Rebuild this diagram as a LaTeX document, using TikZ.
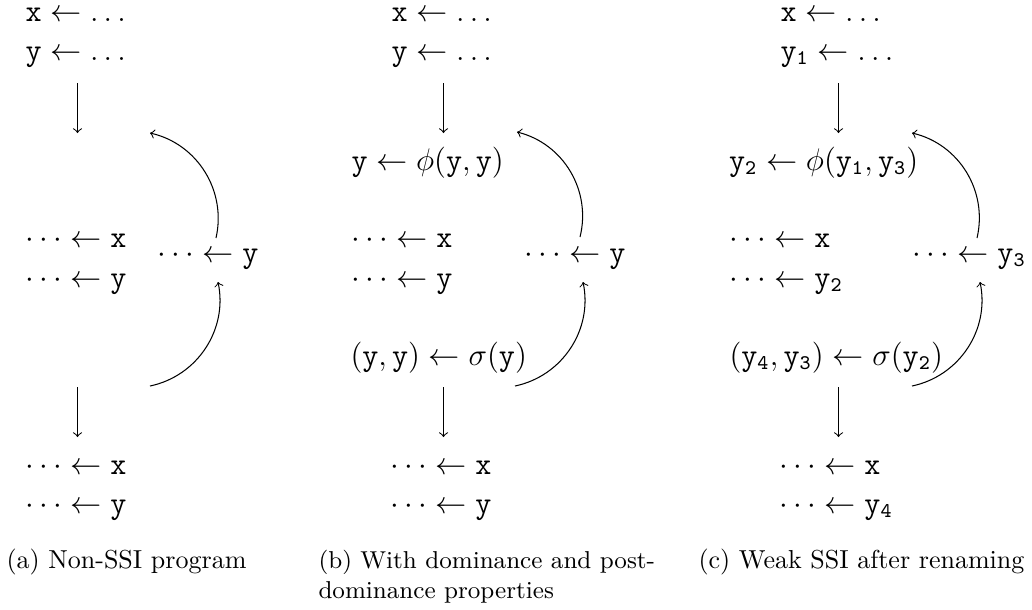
\documentclass[tikz,border=0pt]{standalone}
\begin{document}
\begin{tikzpicture}[x=0.3846pt,y=0.3846pt,
  txt/.style={anchor=base west, inner sep=0pt, font=\fontsize{12}{15}\selectfont},
  captxt/.style={anchor=base west, inner sep=0pt, font=\fontsize{10}{11.5}\selectfont, align=left},
  flow/.style={->, line width=0.4pt},
  backarc/.style={->, line width=0.4pt, bend right=45}]
\useasboundingbox (0,0) rectangle (1032,-609);
% ---------- panel (a)
\node[txt] (a1) at (25,-21) {$\mathtt{x} \leftarrow \ldots$};
\node[txt] (a2) at (25,-60) {$\mathtt{y} \leftarrow \ldots$};
\node[txt] (a3) at (25,-247) {$\cdots \leftarrow \mathtt{x}$};
\node[txt] (a4) at (25,-287) {$\cdots \leftarrow \mathtt{y}$};
\node[txt] (a5) at (157,-262) {$\cdots \leftarrow \mathtt{y}$};
\node[txt] (a6) at (25,-474) {$\cdots \leftarrow \mathtt{x}$};
\node[txt] (a7) at (25,-513) {$\cdots \leftarrow \mathtt{y}$};
\coordinate (ad1) at (77.5,-83);  \coordinate (ad2) at (77.5,-133);
\coordinate (ad3) at (77.5,-387); \coordinate (ad4) at (77.5,-437);
\coordinate (au1) at (216,-238); \coordinate (au2) at (150,-133);
\coordinate (al1) at (150,-386); \coordinate (al2) at (218,-282);
\draw[flow] (ad1) -- (ad2);
\draw[flow] (ad3) -- (ad4);
\draw[backarc] (au1) to (au2);
\draw[backarc] (al1) to (al2);
\node[captxt] (acap) at (6,-568) {(a) Non-SSI program};
% ---------- panel (b)
\node[txt] (b1) at (391,-21) {$\mathtt{x} \leftarrow \ldots$};
\node[txt] (b2) at (391,-60) {$\mathtt{y} \leftarrow \ldots$};
\node[txt] (b3) at (351,-170) {$\mathtt{y} \leftarrow \phi(\mathtt{y},\mathtt{y})$};
\node[txt] (b4) at (351,-247) {$\cdots \leftarrow \mathtt{x}$};
\node[txt] (b5) at (351,-287) {$\cdots \leftarrow \mathtt{y}$};
\node[txt] (b6) at (524,-262) {$\cdots \leftarrow \mathtt{y}$};
\node[txt] (b7) at (350,-365) {$(\mathtt{y},\mathtt{y}) \leftarrow \sigma(\mathtt{y})$};
\node[txt] (b8) at (390,-474) {$\cdots \leftarrow \mathtt{x}$};
\node[txt] (b9) at (390,-513) {$\cdots \leftarrow \mathtt{y}$};
\coordinate (bd1) at (443.5,-83);  \coordinate (bd2) at (443.5,-133);
\coordinate (bd3) at (443.5,-387); \coordinate (bd4) at (443.5,-437);
\coordinate (bu1) at (580,-237); \coordinate (bu2) at (517,-132);
\coordinate (bl1) at (515,-386); \coordinate (bl2) at (583,-282);
\draw[flow] (bd1) -- (bd2);
\draw[flow] (bd3) -- (bd4);
\draw[backarc] (bu1) to (bu2);
\draw[backarc] (bl1) to (bl2);
\node[captxt, font=\fontsize{9.4}{11.5}\selectfont] (bcap) at (318,-598) {(b) With dominance and post-\\dominance properties};
% ---------- panel (c)
\node[txt] (c1) at (780,-21) {$\mathtt{x} \leftarrow \ldots$};
\node[txt] (c2) at (780,-60) {$\mathtt{y}_\mathtt{1} \leftarrow \ldots$};
\node[txt] (c3) at (728.5,-170) {$\mathtt{y}_\mathtt{2} \leftarrow \phi(\mathtt{y}_\mathtt{1},\mathtt{y}_\mathtt{3})$};
\node[txt] (c4) at (729,-247) {$\cdots \leftarrow \mathtt{x}$};
\node[txt] (c5) at (729,-287) {$\cdots \leftarrow \mathtt{y}_\mathtt{2}$};
\node[txt] (c6) at (912,-262) {$\cdots \leftarrow \mathtt{y}_\mathtt{3}$};
\node[txt] (c7) at (729,-365) {$(\mathtt{y}_\mathtt{4},\mathtt{y}_\mathtt{3}) \leftarrow \sigma(\mathtt{y}_\mathtt{2})$};
\node[txt] (c8) at (779,-474) {$\cdots \leftarrow \mathtt{x}$};
\node[txt] (c9) at (779,-513) {$\cdots \leftarrow \mathtt{y}_\mathtt{4}$};
\coordinate (cd1) at (838.5,-83);  \coordinate (cd2) at (838.5,-133);
\coordinate (cd3) at (838.5,-387); \coordinate (cd4) at (838.5,-437);
\coordinate (cu1) at (977,-238); \coordinate (cu2) at (912,-133);
\coordinate (cl1) at (912,-386); \coordinate (cl2) at (980,-282);
\draw[flow] (cd1) -- (cd2);
\draw[flow] (cd3) -- (cd4);
\draw[backarc] (cu1) to (cu2);
\draw[backarc] (cl1) to (cl2);
\node[captxt] (ccap) at (698,-568) {(c) Weak SSI after renaming};
\end{tikzpicture}
\end{document}
